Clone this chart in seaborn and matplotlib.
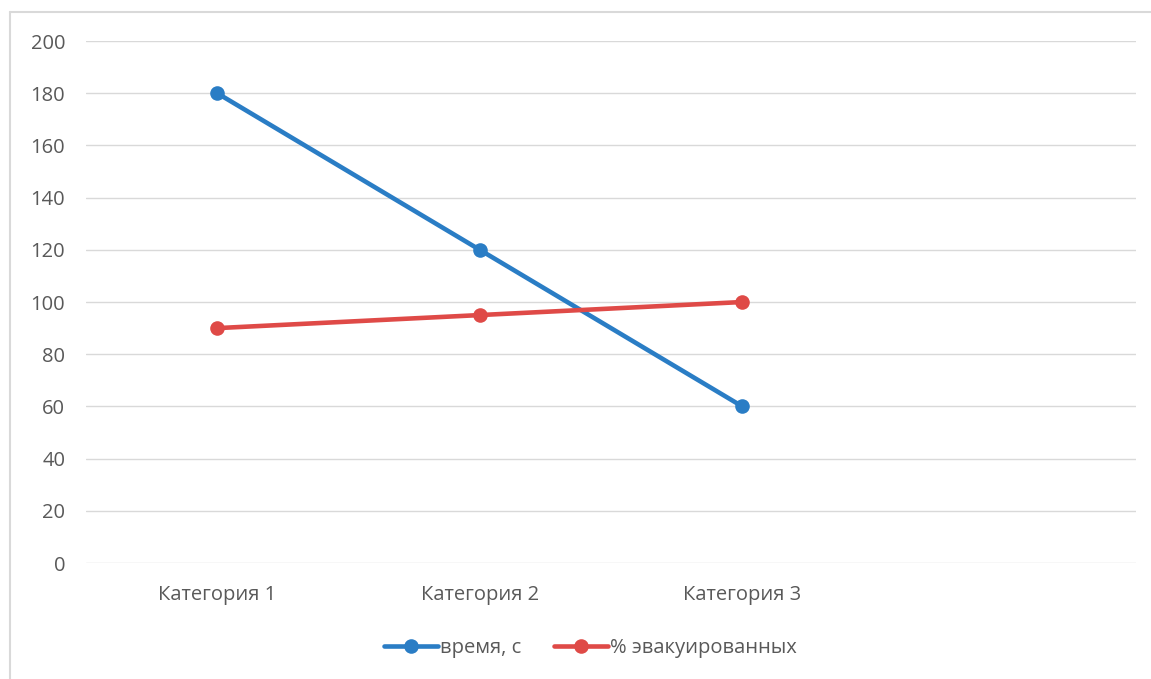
import matplotlib
matplotlib.use("Agg")
import matplotlib.pyplot as plt
from matplotlib.lines import Line2D
import seaborn as sns
import pandas as pd

categories = ["Категория 1", "Категория 2", "Категория 3"]
time_s = [180, 120, 60]
evacuated_pct = [90, 95, 100]
series_names = ["время, с", "% эвакуированных"]
y_ticks = [0, 20, 40, 60, 80, 100, 120, 140, 160, 180, 200]

blue = "#2a7dc5"
red = "#df4a47"
text_color = "#595959"
grid_color = "#d9d9d9"

sns.set_theme(style="white")
plt.rcParams["font.family"] = ["Open Sans", "DejaVu Sans"]

df = pd.DataFrame({
    "category": categories * 2,
    "value": time_s + evacuated_pct,
    "series": [series_names[0]] * len(categories) + [series_names[1]] * len(categories),
})

fig = plt.figure(figsize=(11.51, 6.79), dpi=100)
ax = fig.add_axes([0.0747, 0.1708, 0.9123, 0.7688])

for name, color in zip(series_names, [blue, red]):
    sub = df[df["series"] == name]
    sns.lineplot(data=sub, x="category", y="value", ax=ax, color=color,
                 linewidth=3.3, marker="o", markersize=10.5,
                 markeredgewidth=0, legend=False, zorder=3)

ax.set_xlim(-0.5, 3.5)
ax.set_ylim(0, 200)
ax.set_yticks(y_ticks)
ax.set_xticks(range(len(categories)))
ax.set_xticklabels(categories)
ax.set_xlabel("")
ax.set_ylabel("")
ax.grid(axis="y", color=grid_color, linewidth=1.0)
ax.set_axisbelow(True)
for s in ax.spines.values():
    s.set_visible(False)
ax.tick_params(axis="both", length=0, labelsize=14.5, labelcolor=text_color)
ax.tick_params(axis="y", pad=15)
ax.tick_params(axis="x", pad=16)

handles = [Line2D([0], [0], color=c, linewidth=3.3, marker="o", markersize=10.5,
                  markeredgewidth=0) for c in [blue, red]]
fig.legend(handles, series_names, loc="center", bbox_to_anchor=(0.513, 0.045),
           ncol=2, frameon=False, fontsize=14.5, labelcolor=text_color,
           handlelength=2.7, handletextpad=0.1, columnspacing=1.6)

# partial chart frame (top and left edges)
fig.add_artist(Line2D([10 / 1151, 1.0], [1 - 12 / 679, 1 - 12 / 679],
                      color="#d9d9d9", linewidth=1.5, transform=fig.transFigure))
fig.add_artist(Line2D([10 / 1151, 10 / 1151], [0.0, 1 - 12 / 679],
                      color="#d9d9d9", linewidth=1.5, transform=fig.transFigure))

fig.savefig("out.png", dpi=100)
